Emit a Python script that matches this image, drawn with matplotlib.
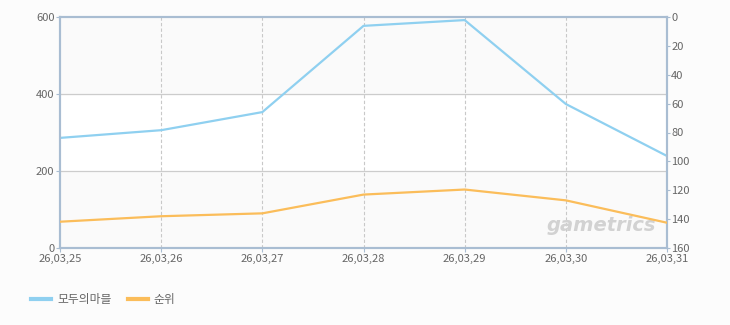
import numpy as np
import matplotlib
matplotlib.use("Agg")
import matplotlib.pyplot as plt
from matplotlib.lines import Line2D

plt.rcParams['font.family'] = ['Noto Sans CJK KR', 'DejaVu Sans']

dates = ["26,03,25", "26,03,26", "26,03,27", "26,03,28", "26,03,29", "26,03,30", "26,03,31"]
users = [286, 306, 353, 577, 592, 374, 239]
rank = [141.8, 138, 136, 123, 119.5, 127, 142.5]

blue = "#8fd0f0"
orange = "#fbbd5a"
edge = "#a9bdd2"
txt = "#666666"

fig = plt.figure(figsize=(7.3, 3.25), dpi=100, facecolor="#fcfcfc")
ax = fig.add_axes([60/730, 77/325, 607/730, 231/325])
ax.set_facecolor("white")
x = np.arange(len(dates))

# alternating bands
for lo, hi, c in [(0, 200, "#fafafa"), (200, 400, "white"), (400, 600, "#fafafa")]:
    ax.axhspan(lo, hi, color=c, zorder=0)
for yv in [200, 400]:
    ax.axhline(yv, color="#cccccc", lw=0.9, zorder=1)
for xv in x[1:-1]:
    ax.axvline(xv, color="#c8c8c8", lw=0.8, ls=(0, (3, 2)), zorder=1)

ax.plot(x, users, color=blue, lw=1.6, zorder=3)
ax.set_xlim(0, len(dates) - 1)
ax.set_ylim(0, 600)
ax.set_yticks([0, 200, 400, 600])
ax.set_xticks(x)
ax.set_xticklabels(dates)

ax2 = ax.twinx()
ax2.plot(x, rank, color=orange, lw=1.6, zorder=3)
ax2.set_ylim(160, 0)
ax2.set_yticks(range(0, 161, 20))

for a in (ax, ax2):
    for s in a.spines.values():
        s.set_color(edge)
        s.set_linewidth(1.5)
    a.tick_params(colors=txt, labelsize=8, length=3, width=0.8, pad=1)
    a.tick_params(axis='both', color=edge)
ax2.tick_params(axis='y', pad=1, length=2)

ax.text(0.982, 0.055, "gametrics", transform=ax.transAxes, ha="right", va="bottom",
        fontsize=14, fontweight="bold", style="italic", color="#d2d2d2",
        family="DejaVu Sans", zorder=2)

handles = [Line2D([], [], color=blue, lw=3), Line2D([], [], color=orange, lw=3)]
fig.legend(handles, ["모두의마블", "순위"], loc="lower left", bbox_to_anchor=(0.028, 0.025),
           ncol=2, frameon=False, fontsize=8.5, handlelength=1.7, handletextpad=0.5,
           columnspacing=1.4, labelcolor=txt)

fig.savefig("out.png", dpi=100, facecolor=fig.get_facecolor())
